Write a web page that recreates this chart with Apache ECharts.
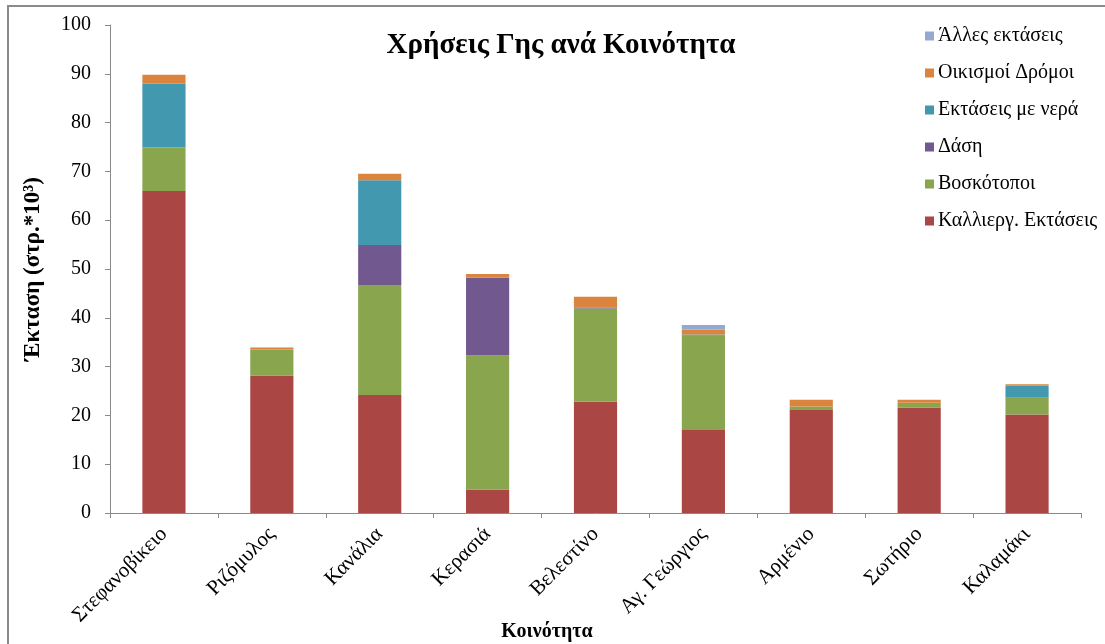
<!DOCTYPE html>
<html>
<head>
<meta charset="utf-8">
<script src="https://cdn.jsdelivr.net/npm/echarts@6/dist/echarts.min.js"></script>
<style>
  html, body { margin: 0; padding: 0; background: #fff; }
  #chart { width: 1105px; height: 644px; }
  #frame {
    position: absolute; left: 7px; top: 5px; right: 0; bottom: 0;
    border-left: 2px solid #8a8a8a; border-top: 2px solid #8a8a8a;
    pointer-events: none;
  }
</style>
</head>
<body>
<div id="chart"></div>
<div id="frame"></div>
<script>
// κοινότητες
const categories = ['Στεφανοβίκειο', 'Ριζόμυλος', 'Κανάλια', 'Κερασιά', 'Βελεστίνο',
  'Αγ. Γεώργιος', 'Αρμένιο', 'Σωτήριο', 'Καλαμάκι']

// στρ. * 10^3, εκτίμηση από την εικόνα
const kalliergies = [66.0, 28.1, 24.2, 4.8, 22.8, 17.0, 21.1, 21.6, 20.2]
const voskotopoi = [8.9, 5.4, 22.5, 27.5, 19.1, 19.3, 0.7, 1.0, 3.4]
const dasi = [0, 0, 8.2, 15.9, 0.2, 0, 0, 0, 0]
const nera = [13.1, 0, 13.3, 0, 0, 0.3, 0, 0, 2.5]
const oikismoi = [1.8, 0.4, 1.3, 0.8, 2.2, 1.0, 1.4, 0.6, 0.3]
const alles = [0, 0, 0, 0, 0, 0.9, 0, 0, 0]

const yTicks = { min: 0, max: 100, interval: 10 }

const font = 'Liberation Serif, Times New Roman, serif'
const colors = {
  'Καλλιεργ. Εκτάσεις': '#aa4643',
  'Βοσκότοποι': '#89a54e',
  'Δάση': '#71588f',
  'Εκτάσεις με νερά': '#4198af',
  'Οικισμοί Δρόμοι': '#db843d',
  'Άλλες εκτάσεις': '#93a9cf',
}
const seriesData = [
  ['Καλλιεργ. Εκτάσεις', kalliergies],
  ['Βοσκότοποι', voskotopoi],
  ['Δάση', dasi],
  ['Εκτάσεις με νερά', nera],
  ['Οικισμοί Δρόμοι', oikismoi],
  ['Άλλες εκτάσεις', alles],
]

let mychart = echarts.init(document.getElementById('chart'))
let option = {
  backgroundColor: '#fff',
  animation: false,
  title: [
    {
      text: 'Χρήσεις Γης ανά Κοινότητα',
      left: 556, top: 26, textAlign: 'center',
      textStyle: { fontFamily: font, fontWeight: 'bold', fontSize: 29, color: '#000' },
    },
    {
      text: 'Κοινότητα',
      left: 542, top: 617, textAlign: 'center',
      textStyle: { fontFamily: font, fontWeight: 'bold', fontSize: 20, color: '#000' },
    },
  ],
  legend: {
    orient: 'vertical',
    left: 920, top: 21,
    itemWidth: 9, itemHeight: 9, itemGap: 17,
    icon: 'rect',
    data: seriesData.map((s) => s[0]).reverse(),
    textStyle: { fontFamily: font, fontSize: 20, color: '#000', padding: [0, 0, 0, -1] },
  },
  grid: { left: 110, right: 24, top: 25, bottom: 131 },
  xAxis: {
    type: 'category',
    data: categories,
    axisLine: { lineStyle: { color: '#8a8a8a', width: 1 } },
    axisTick: { show: true, length: 5, lineStyle: { color: '#8a8a8a' } },
    axisLabel: {
      rotate: 45, margin: 18, interval: 0,
      fontFamily: font, fontSize: 21, color: '#000',
    },
  },
  yAxis: {
    type: 'value',
    min: yTicks.min, max: yTicks.max, interval: yTicks.interval,
    name: 'Έκταση (στρ.*10³)',
    nameLocation: 'middle',
    nameGap: 65,
    nameTextStyle: { fontFamily: font, fontWeight: 'bold', fontSize: 23, color: '#000' },
    axisLine: { show: true, lineStyle: { color: '#8a8a8a', width: 1 } },
    axisTick: { show: true, length: 5, lineStyle: { color: '#8a8a8a' } },
    splitLine: { show: false },
    axisLabel: { margin: 19, fontFamily: font, fontSize: 20, color: '#000' },
  },
  series: seriesData.map(([name, data]) => ({
    name: name,
    type: 'bar',
    stack: 'total',
    barWidth: '40%',
    itemStyle: { color: colors[name] },
    data: data,
  })),
}
mychart.setOption(option, true)
</script>
</body>
</html>
